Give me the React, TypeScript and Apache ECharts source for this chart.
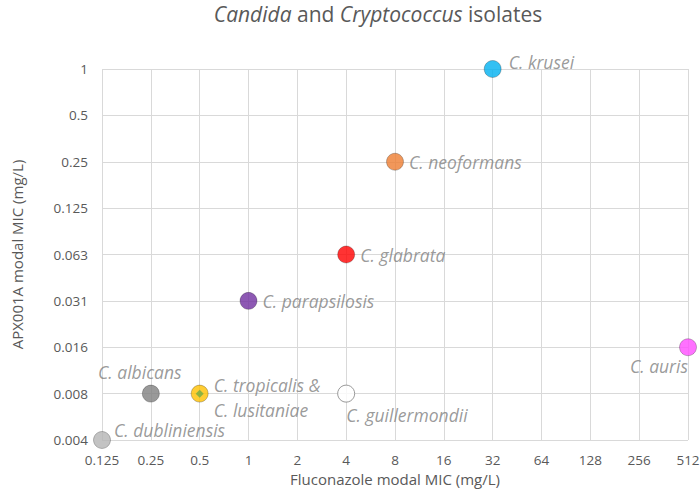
import React, { useEffect, useRef } from "react";
import * as echarts from "echarts";

const names = [
  "C. krusei",
  "C. neoformans",
  "C. glabrata",
  "C. parapsilosis",
  "C. auris",
  "C. albicans",
  "C. tropicalis &\nC. lusitaniae",
  "C. guillermondii",
  "C. dubliniensis",
];
const fluconazoleMIC = [32, 8, 4, 1, 512, 0.25, 0.5, 4, 0.125];
const apx001aMIC = [1, 0.25, 0.0625, 0.03125, 0.015625, 0.0078125, 0.0078125, 0.0078125, 0.00390625];
const colors = ["#00b0f0", "#ed7d31", "#ff0000", "#7030a0", "#ff4dff", "#7f7f7f", "#ffc000", "#ffffff", "#b4b4b4"];

const xTickLabels = ["0.125", "0.25", "0.5", "1", "2", "4", "8", "16", "32", "64", "128", "256", "512"]; // 2^-3..2^9
const yTickLabels = ["0.004", "0.008", "0.016", "0.031", "0.063", "0.125", "0.25", "0.5", "1"]; // 2^-8..2^0

// label placement (style only)
const labelPlacement: any[] = [
  { position: "right", offset: [2, -7] },
  { position: "right", offset: [0, 0] },
  { position: "right", offset: [0, 0] },
  { position: "right", offset: [0, 0] },
  { position: "bottom", align: "right", offset: [0, -4] },
  { position: "top", offset: [-11, 1] },
  { position: "right", offset: [0, 4], lineHeight: 25 },
  { position: "bottom", align: "left", offset: [0, -2] },
  { position: "right", offset: [-2, -10] },
];

const FONT = "'Open Sans', sans-serif";

export default function App() {
  const ref = useRef<HTMLDivElement>(null);
  useEffect(() => {
    if (!ref.current) return;
    const chart = echarts.init(ref.current, null, { renderer: "svg" });
    const data = names.map((n, i) => ({
      name: n,
      value: [fluconazoleMIC[i], apx001aMIC[i]],
      itemStyle: {
        color: colors[i],
        borderColor: i === 7 ? "#7f7f7f" : "rgba(0,0,0,0.3)",
        borderWidth: 1,
      },
      label: {
        show: true,
        formatter: n,
        color: "#7f7f7f",
        fontStyle: "italic",
        fontSize: 17.5,
        lineHeight: 18,
        fontFamily: FONT,
        ...labelPlacement[i],
      },
    }));
    chart.setOption({
      animation: false,
      title: {
        text: "{i|Candida} and {i|Cryptococcus} isolates",
        left: 378,
        top: 3,
        padding: 0,
        textAlign: "center",
        textStyle: {
          fontSize: 21,
          fontWeight: "normal",
          color: "#595959",
          fontFamily: FONT,
          rich: {
            i: { fontSize: 21, fontStyle: "italic", color: "#595959", fontFamily: FONT },
          },
        },
      },
      grid: { left: 102, right: 12, top: 69, bottom: 54, outerBoundsMode: "none", containLabel: false },
      xAxis: {
        type: "log",
        logBase: 2,
        min: 0.125,
        max: 512,
        interval: 1,
        name: "Fluconazole modal MIC (mg/L)",
        nameLocation: "middle",
        nameGap: 31,
        nameTextStyle: { fontSize: 15, color: "#595959", fontFamily: FONT },
        axisLine: { show: false },
        axisTick: { show: false },
        axisLabel: {
          fontSize: 13.5,
          color: "#595959",
          fontFamily: FONT,
          margin: 13,
          formatter: (v: number) => xTickLabels[Math.round(Math.log2(v)) + 3] ?? "",
        },
        splitLine: { show: true, lineStyle: { color: "#d9d9d9", width: 1 } },
      },
      yAxis: {
        type: "log",
        logBase: 2,
        min: 0.00390625,
        max: 1,
        interval: 1,
        name: "APX001A modal MIC (mg/L)",
        nameLocation: "middle",
        nameGap: 78,
        nameTextStyle: { fontSize: 15, color: "#595959", fontFamily: FONT },
        axisLine: { show: false },
        axisTick: { show: false },
        axisLabel: {
          fontSize: 13.5,
          color: "#595959",
          fontFamily: FONT,
          margin: 14,
          formatter: (v: number) => yTickLabels[Math.round(Math.log2(v)) + 8] ?? "",
        },
        splitLine: { show: true, lineStyle: { color: "#d9d9d9", width: 1 } },
      },
      series: [
        {
          type: "scatter",
          symbol: "circle",
          symbolSize: 17,
          data,
          clip: false,
          z: 3,
        },
        {
          type: "scatter",
          symbol: "diamond",
          symbolSize: 8,
          data: [[fluconazoleMIC[6], apx001aMIC[6]]],
          itemStyle: { color: "#70ad47" },
          z: 4,
          silent: true,
        },
      ],
    });
    return () => chart.dispose();
  }, []);
  return <div ref={ref} style={{ position: "absolute", left: 0, top: 0, width: 700, height: 494 }} />;
}
